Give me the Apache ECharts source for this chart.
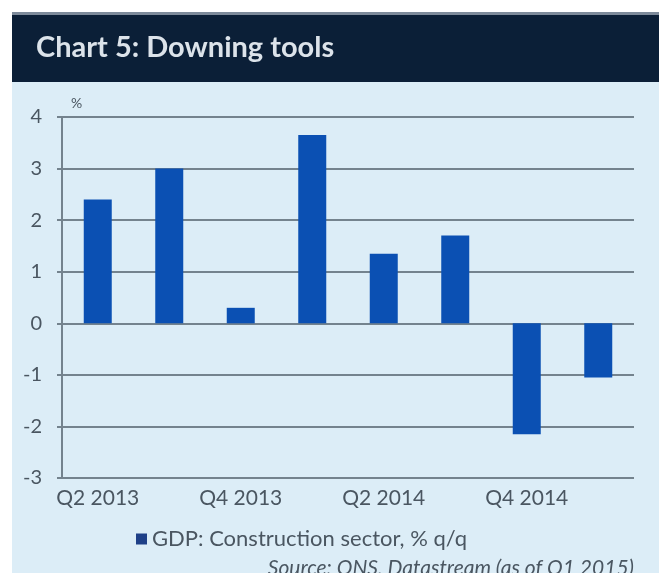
<!DOCTYPE html>
<html>
<head>
<meta charset="utf-8">
<script src="https://cdn.jsdelivr.net/npm/echarts@6/dist/echarts.min.js"></script>
<style>
  html, body { margin: 0; padding: 0; background: #ffffff; }
  #chart { width: 659px; height: 573px; }
</style>
</head>
<body>
<div id="chart"></div>
<script>
// Quarterly growth of construction output, % q/q
const quarters = ['Q2 2013', 'Q3 2013', 'Q4 2013', 'Q1 2014', 'Q2 2014', 'Q3 2014', 'Q4 2014', 'Q1 2015'];
const constructionGrowth = [2.4, 3.0, 0.3, 3.65, 1.35, 1.7, -2.15, -1.05];
const seriesName = 'GDP: Construction sector, % q/q';
const yTicks = { min: -3, max: 4, step: 1 };

const FONT = 'Lato';
const TEXT = '#4a5661';
const GRID = '#74838e';

const chart = echarts.init(document.getElementById('chart'));

chart.setOption({
  backgroundColor: '#ffffff',
  animation: false,
  graphic: [
    // light panel behind the plot
    { type: 'rect', z: -10, shape: { x: 12, y: 82, width: 647, height: 491 }, style: { fill: '#dcedf7' } },
    // dark heading band
    { type: 'rect', z: -10, shape: { x: 12, y: 14, width: 647, height: 68 }, style: { fill: '#0b1f37' } },
    { type: 'rect', z: -9, shape: { x: 12, y: 12, width: 647, height: 3 }, style: { fill: '#7d8a9a' } }
  ],
  title: [
    {
      text: 'Chart 5: Downing tools',
      left: 31,
      top: 28,
      textStyle: { color: '#dce3ea', fontFamily: FONT, fontWeight: 'bold', fontSize: 29 }
    },
    {
      text: 'Source: ONS, Datastream (as of Q1 2015)',
      right: 20,
      top: 553,
      textStyle: { color: TEXT, fontFamily: FONT, fontStyle: 'italic', fontWeight: 'normal', fontSize: 21 }
    }
  ],
  legend: {
    left: 131,
    top: 523,
    icon: 'rect',
    itemWidth: 11,
    itemHeight: 11,
    itemGap: 10,
    textStyle: { color: TEXT, fontFamily: FONT, fontSize: 22 },
    data: [{ name: seriesName, itemStyle: { color: '#1e4088' } }]
  },
  grid: { left: 62, right: 25, top: 117, bottom: 95 },
  xAxis: {
    type: 'category',
    data: quarters,
    axisLine: { show: false },
    axisTick: { show: false },
    axisLabel: { interval: 1, color: TEXT, fontFamily: FONT, fontSize: 21, margin: 10 }
  },
  yAxis: {
    type: 'value',
    min: yTicks.min,
    max: yTicks.max,
    interval: yTicks.step,
    name: '%',
    nameLocation: 'end',
    nameGap: 7,
    nameTextStyle: { color: TEXT, fontFamily: FONT, fontSize: 14, align: 'left', padding: [0, 0, 0, 9] },
    axisLine: { show: true, lineStyle: { color: GRID, width: 2 } },
    axisTick: { show: true, length: 5, lineStyle: { color: GRID, width: 2 } },
    axisLabel: { color: TEXT, fontFamily: FONT, fontSize: 20, margin: 20 },
    splitLine: { show: true, lineStyle: { color: GRID, width: 2 } }
  },
  series: [
    {
      name: seriesName,
      type: 'bar',
      data: constructionGrowth,
      barWidth: 28,
      itemStyle: { color: '#0b50b3' }
    }
  ]
});
</script>
</body>
</html>
